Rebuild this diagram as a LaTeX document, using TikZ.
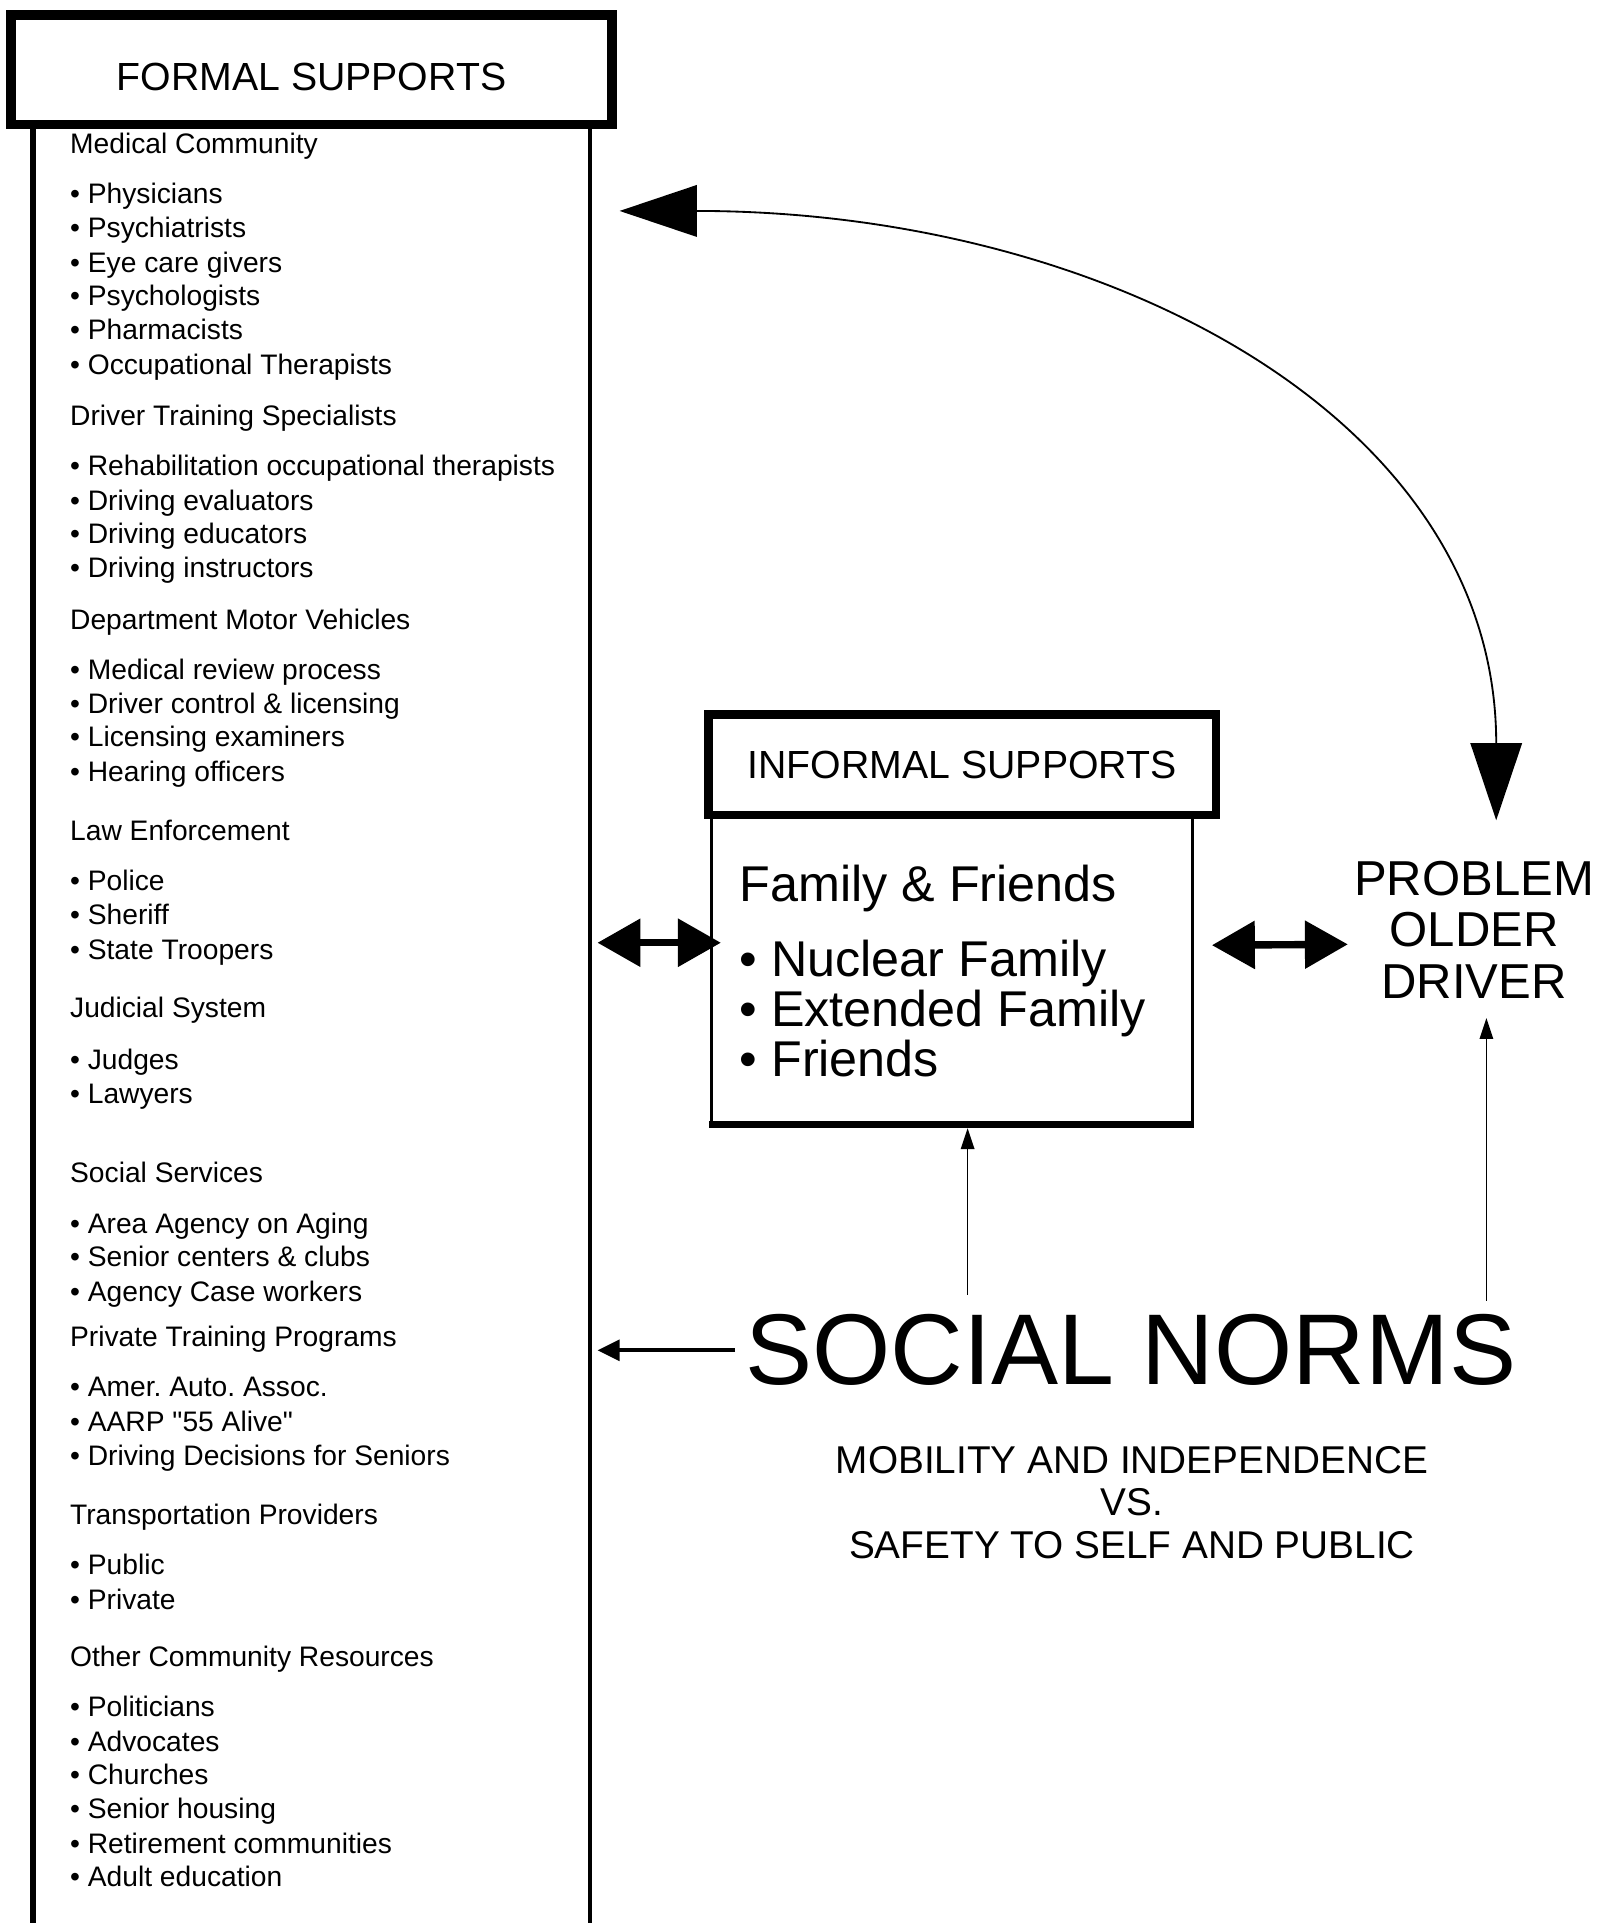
\documentclass[tikz,border=0pt]{standalone}
\usepackage{fontspec}
\setmainfont{Liberation Sans}[Ligatures=TeXOff]
\usetikzlibrary{arrows.meta,calc,positioning}
\frenchspacing

\tikzset{
  headbox/.style={draw, line width=8pt, inner sep=0pt, font=\fontsize{32}{38}\selectfont},
  listtext/.style={anchor=base west, inner sep=0pt, font=\fontsize{23}{27.7}\selectfont},
  bigtext/.style={anchor=base west, inner sep=0pt, font=\fontsize{41}{41}\selectfont},
  bigtips/.style={line width=1.5pt, {Triangle[length=63pt,width=42pt]}-{Triangle[length=63pt,width=42pt]}},
  dbltips/.style={line width=6pt, {Triangle[length=35pt,width=38pt]}-{Triangle[length=35pt,width=38pt]}},
  thinup/.style={line width=1.2pt, -{Triangle[length=17pt,width=11pt]}},
  normleft/.style={line width=3pt, -{Triangle[length=18pt,width=17pt]}}
}

\begin{document}
\begin{tikzpicture}[x=1pt,y=-1pt]
  \useasboundingbox (0,0) rectangle (1304,1568);

  % formal supports
  \node[headbox, text height=34pt, text depth=0pt, minimum width=490pt, minimum height=89pt] (formal) at (254,57) {FORMAL SUPPORTS};
  \node[inner sep=0pt, minimum width=454pt, minimum height=1480pt, anchor=north] (fbody) at (254,101) {};
  \draw[line width=4.5pt] (fbody.north west) -- (fbody.south west);
  \draw[line width=3pt] (fbody.north east) -- (fbody.south east);

  \foreach \y/\t [count=\i] in {117/Medical Community, 339/Driver Training Specialists,
      505/Department Motor Vehicles, 677/Law Enforcement, 822/Judicial System,
      956/Social Services, 1090/Private Training Programs,
      1235/Transportation Providers, 1351/Other Community Resources}
    \node[listtext] (sec\i) at (57,\y+8) {\t};

  \foreach \y/\t [count=\i] in {158/Physicians, 186/Psychiatrists, 214/Eye care givers,
      241/Psychologists, 269/Pharmacists, 297/Occupational Therapists,
      380/Rehabilitation occupational therapists, 408/Driving evaluators,
      435/Driving educators, 463/Driving instructors,
      546/Medical review process, 574/Driver control \& licensing,
      601/Licensing examiners, 629/Hearing officers,
      718/Police, 746/Sheriff, 774/State Troopers,
      864/Judges, 892/Lawyers,
      998/Area Agency on Aging, 1025/Senior centers \& clubs, 1053/Agency Case workers,
      1131/Amer. Auto. Assoc., 1159/AARP "55 Alive", 1187/Driving Decisions for Seniors,
      1276/Public, 1304/Private,
      1392/Politicians, 1420/Advocates, 1447/Churches, 1475/Senior housing,
      1503/Retirement communities, 1530/Adult education}
    \node[listtext] (item\i) at (57,\y+8) {• \t};

  % informal supports
  \node[headbox, line width=7pt, minimum width=414pt, minimum height=82pt] (informal) at (784.5,623.5) {INFORMAL SUPPORTS};
  \node[inner sep=0pt, minimum width=392pt, minimum height=252pt, anchor=north] (ibody) at (776,664.5) {};
  \draw[line width=2.5pt] (ibody.north west) -- (ibody.south west) -- (ibody.south east) -- (ibody.north east);
  \draw[line width=6pt] ([xshift=-1.5pt]ibody.south west) -- ([xshift=1.5pt]ibody.south east);

  \node[bigtext] (family) at (603,735) {Family \& Friends};
  \node[bigtext] (nuclear) at (603,796) {• Nuclear Family};
  \node[bigtext] (extended) at (603,837) {• Extended Family};
  \node[bigtext] (friends) at (603,878) {• Friends};

  % driver and norms
  \node[align=center, inner sep=0pt, font=\fontsize{40}{42}\selectfont] (driver) at (1202,758) {PROBLEM\\OLDER\\DRIVER};
  \node[inner sep=8pt, font=\fontsize{82}{90}\selectfont] (norms) at (922,1101) {SOCIAL NORMS};
  \node[align=center, inner sep=0pt, font=\fontsize{31.6}{34.5}\selectfont] (values) at (923,1225)
    {MOBILITY AND INDEPENDENCE\\VS.\\SAFETY TO SELF AND PUBLIC};

  % arrows
  \draw[bigtips] ($(fbody.north east)+(24,71)$) .. controls (900,172) and (1220,340) .. ($(driver.north)+(18,-33)$);
  \draw[dbltips] ($(fbody.east |- ibody.west)+(6,-22)$) -- ($(ibody.west)+(8,-22)$);
  \draw[dbltips] ($(ibody.east)+(16,-20)$) -- ($(driver.west)+(-5,12)$);
  \draw[thinup] ($(norms.north)+(-133,-8)$) -- ($(ibody.south)+(13,3)$);
  \draw[thinup] ($(norms.north)+(290,-3)$) -- ($(driver.south)+(10,16)$);
  \draw[normleft] (norms.west) -- ($(fbody.east |- norms.west)+(6,0)$);
\end{tikzpicture}
\end{document}
